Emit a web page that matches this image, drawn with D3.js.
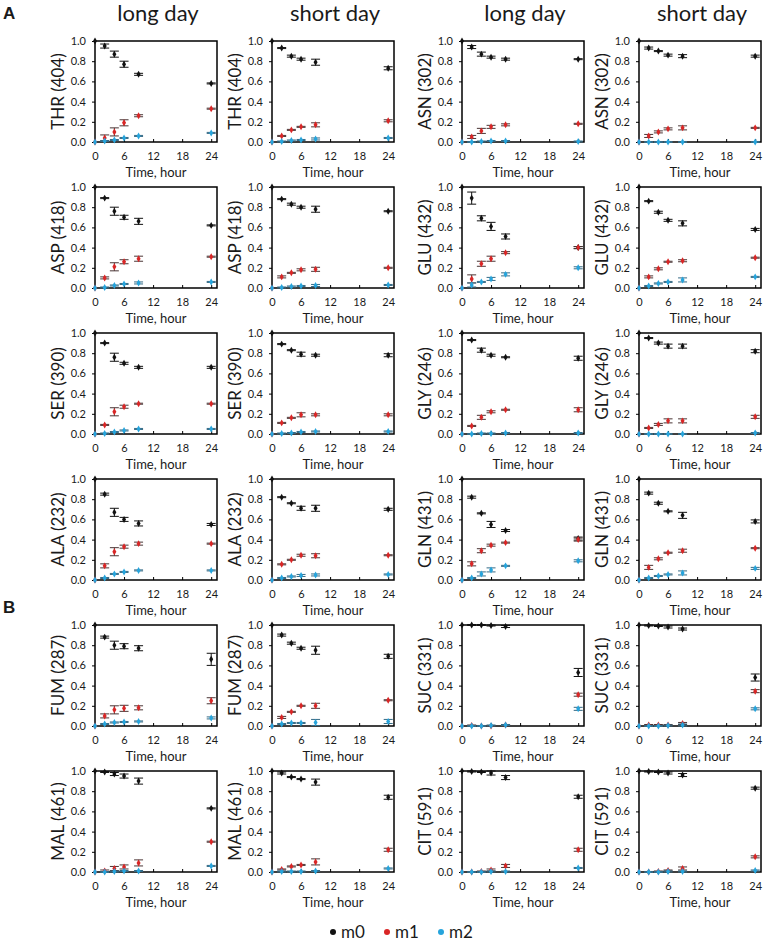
<!DOCTYPE html>
<html>
<head>
<meta charset="utf-8">
<script src="https://cdn.jsdelivr.net/npm/d3@7"></script>
<style>
  html, body { margin: 0; padding: 0; background: #fff; }
  svg { display: block; }
  text { font-family: Lato, "Open Sans", sans-serif; fill: #1a1a1a; }
</style>
</head>
<body>
<svg id="chart" width="777" height="944"></svg>
<script>
// ---------------- DATA ----------------
const times = [0, 2, 4, 6, 9, 24];
const xTickValues = [0, 6, 12, 18, 24];
const yTickValues = [0, 0.2, 0.4, 0.6, 0.8, 1.0];
const columnTitles = ["long day", "short day", "long day", "short day"];
const sectionLabels = ["A", "B"];
const seriesNames = ["m0", "m1", "m2"];
// panels, row-major (4 per row)
const panelLabels = [
  "THR (404)", "THR (404)", "ASN (302)", "ASN (302)",
  "ASP (418)", "ASP (418)", "GLU (432)", "GLU (432)",
  "SER (390)", "SER (390)", "GLY (246)", "GLY (246)",
  "ALA (232)", "ALA (232)", "GLN (431)", "GLN (431)",
  "FUM (287)", "FUM (287)", "SUC (331)", "SUC (331)",
  "MAL (461)", "MAL (461)", "CIT (591)", "CIT (591)"
];
const m0Values = [
  [1, 0.95, 0.87, 0.77, 0.67, 0.58],
  [1, 0.93, 0.85, 0.82, 0.79, 0.73],
  [1, 0.94, 0.87, 0.84, 0.82, 0.82],
  [1, 0.93, 0.90, 0.86, 0.85, 0.85],
  [1, 0.89, 0.76, 0.70, 0.66, 0.62],
  [1, 0.88, 0.83, 0.80, 0.78, 0.76],
  [1, 0.89, 0.69, 0.61, 0.51, 0.40],
  [1, 0.86, 0.75, 0.67, 0.64, 0.58],
  [1, 0.90, 0.76, 0.70, 0.66, 0.66],
  [1, 0.89, 0.83, 0.79, 0.78, 0.78],
  [1, 0.93, 0.83, 0.78, 0.76, 0.75],
  [1, 0.95, 0.90, 0.87, 0.87, 0.82],
  [1, 0.85, 0.67, 0.60, 0.56, 0.55],
  [1, 0.82, 0.76, 0.71, 0.71, 0.70],
  [1, 0.82, 0.66, 0.55, 0.49, 0.41],
  [1, 0.86, 0.76, 0.68, 0.64, 0.58],
  [1, 0.88, 0.80, 0.79, 0.77, 0.66],
  [1, 0.90, 0.82, 0.77, 0.75, 0.69],
  [1, 1.0, 1.0, 0.995, 0.985, 0.53],
  [1, 0.995, 0.99, 0.98, 0.96, 0.48],
  [1, 0.99, 0.97, 0.95, 0.90, 0.63],
  [1, 0.98, 0.94, 0.92, 0.89, 0.74],
  [1, 0.995, 0.99, 0.98, 0.935, 0.745],
  [1, 0.995, 0.99, 0.98, 0.96, 0.83]
];
const m0Err = [
  [0, 0.02, 0.03, 0.03, 0.01, 0.005],
  [0, 0.005, 0.01, 0.01, 0.03, 0.015],
  [0, 0.015, 0.02, 0.01, 0.01, 0.005],
  [0, 0.01, 0.005, 0.01, 0.015, 0.01],
  [0, 0.005, 0.04, 0.02, 0.03, 0.005],
  [0, 0.005, 0.01, 0.01, 0.03, 0.005],
  [0, 0.06, 0.025, 0.04, 0.025, 0.01],
  [0, 0.005, 0.01, 0.01, 0.025, 0.01],
  [0, 0.005, 0.04, 0.01, 0.01, 0.01],
  [0, 0.005, 0.005, 0.02, 0.01, 0.015],
  [0, 0.005, 0.02, 0.01, 0.005, 0.02],
  [0, 0.005, 0.01, 0.02, 0.02, 0.015],
  [0, 0.01, 0.04, 0.02, 0.025, 0.01],
  [0, 0.005, 0.005, 0.02, 0.03, 0.01],
  [0, 0.01, 0.005, 0.03, 0.01, 0.015],
  [0, 0.01, 0.01, 0.005, 0.03, 0.015],
  [0, 0.01, 0.04, 0.025, 0.025, 0.06],
  [0, 0.01, 0.01, 0.01, 0.04, 0.02],
  [0, 0.005, 0.005, 0.005, 0.01, 0.04],
  [0, 0.005, 0.005, 0.01, 0.01, 0.035],
  [0, 0.005, 0.015, 0.02, 0.03, 0.005],
  [0, 0.01, 0.005, 0.005, 0.03, 0.02],
  [0, 0.005, 0.005, 0.02, 0.02, 0.015],
  [0, 0.005, 0.005, 0.01, 0.015, 0.01]
];
const m1Values = [
  [0, 0.04, 0.10, 0.19, 0.26, 0.33],
  [0, 0.06, 0.12, 0.15, 0.17, 0.21],
  [0, 0.05, 0.11, 0.15, 0.17, 0.18],
  [0, 0.06, 0.10, 0.13, 0.14, 0.14],
  [0, 0.10, 0.21, 0.26, 0.29, 0.31],
  [0, 0.11, 0.15, 0.18, 0.185, 0.20],
  [0, 0.09, 0.24, 0.29, 0.35, 0.40],
  [0, 0.11, 0.19, 0.26, 0.27, 0.30],
  [0, 0.09, 0.22, 0.27, 0.30, 0.30],
  [0, 0.11, 0.16, 0.19, 0.19, 0.19],
  [0, 0.08, 0.165, 0.22, 0.24, 0.24],
  [0, 0.06, 0.095, 0.13, 0.13, 0.17],
  [0, 0.14, 0.28, 0.33, 0.36, 0.36],
  [0, 0.155, 0.20, 0.245, 0.24, 0.245],
  [0, 0.16, 0.29, 0.345, 0.37, 0.40],
  [0, 0.125, 0.21, 0.27, 0.29, 0.315],
  [0, 0.10, 0.16, 0.175, 0.18, 0.25],
  [0, 0.085, 0.14, 0.20, 0.20, 0.255],
  [0, 0.005, 0.0, 0.0, 0.01, 0.31],
  [0, 0.01, 0.01, 0.01, 0.025, 0.345],
  [0, 0.01, 0.035, 0.05, 0.09, 0.30],
  [0, 0.025, 0.055, 0.07, 0.10, 0.22],
  [0, 0.0, 0.005, 0.02, 0.06, 0.22],
  [0, 0.0, 0.005, 0.015, 0.035, 0.15]
];
const m1Err = [
  [0, 0.03, 0.04, 0.03, 0.01, 0.005],
  [0, 0.005, 0.005, 0.005, 0.02, 0.01],
  [0, 0.015, 0.025, 0.015, 0.01, 0.005],
  [0, 0.015, 0.01, 0.01, 0.02, 0.005],
  [0, 0.01, 0.04, 0.02, 0.025, 0.005],
  [0, 0.01, 0.005, 0.01, 0.02, 0.005],
  [0, 0.04, 0.025, 0.025, 0.01, 0.01],
  [0, 0.01, 0.01, 0.005, 0.01, 0.005],
  [0, 0.005, 0.04, 0.015, 0.005, 0.005],
  [0, 0.005, 0.005, 0.02, 0.01, 0.01],
  [0, 0.005, 0.02, 0.01, 0.005, 0.02],
  [0, 0.005, 0.01, 0.02, 0.02, 0.015],
  [0, 0.02, 0.04, 0.015, 0.015, 0.005],
  [0, 0.005, 0.005, 0.01, 0.02, 0.005],
  [0, 0.02, 0.02, 0.01, 0.005, 0.015],
  [0, 0.02, 0.01, 0.005, 0.015, 0.005],
  [0, 0.02, 0.04, 0.03, 0.02, 0.03],
  [0, 0.01, 0.005, 0.005, 0.025, 0.005],
  [0, 0.005, 0.005, 0.005, 0.005, 0.015],
  [0, 0.005, 0.005, 0.005, 0.01, 0.015],
  [0, 0.01, 0.02, 0.02, 0.03, 0.005],
  [0, 0.005, 0.005, 0.005, 0.03, 0.015],
  [0, 0.005, 0.005, 0.01, 0.015, 0.015],
  [0, 0.005, 0.005, 0.005, 0.015, 0.01]
];
const m2Values = [
  [0, 0.01, 0.02, 0.04, 0.06, 0.09],
  [0, 0.005, 0.015, 0.02, 0.03, 0.04],
  [0, 0, 0.005, 0.01, 0.01, 0.005],
  [0, 0, 0, 0, 0, 0],
  [0, 0.005, 0.025, 0.04, 0.05, 0.06],
  [0, 0.005, 0.015, 0.02, 0.025, 0.03],
  [0, 0.03, 0.06, 0.09, 0.135, 0.20],
  [0, 0.02, 0.045, 0.06, 0.08, 0.11],
  [0, 0.005, 0.02, 0.035, 0.05, 0.05],
  [0, 0.005, 0.01, 0.02, 0.025, 0.025],
  [0, 0, 0.005, 0.005, 0.01, 0.01],
  [0, 0, 0, 0, 0, 0.01],
  [0, 0.02, 0.06, 0.08, 0.095, 0.095],
  [0, 0.02, 0.035, 0.045, 0.05, 0.055],
  [0, 0.02, 0.06, 0.10, 0.14, 0.19],
  [0, 0.02, 0.04, 0.055, 0.07, 0.115],
  [0, 0.02, 0.035, 0.04, 0.045, 0.08],
  [0, 0.02, 0.03, 0.03, 0.035, 0.045],
  [0, 0, 0, 0.005, 0.01, 0.17],
  [0, 0, 0, 0.005, 0.01, 0.17],
  [0, 0, 0.005, 0.01, 0.01, 0.06],
  [0, 0.005, 0.005, 0.005, 0.01, 0.035],
  [0, 0, 0, 0.005, 0.005, 0.04],
  [0, 0, 0, 0.005, 0.005, 0.015]
];
const m2Err = [
  [0, 0.005, 0.005, 0.005, 0.005, 0.005],
  [0, 0.005, 0.005, 0.005, 0.01, 0.005],
  [0, 0.005, 0.005, 0.005, 0.005, 0.005],
  [0, 0.005, 0.005, 0.005, 0.005, 0.005],
  [0, 0.005, 0.005, 0.005, 0.01, 0.005],
  [0, 0.005, 0.005, 0.005, 0.01, 0.005],
  [0, 0.02, 0.005, 0.015, 0.015, 0.01],
  [0, 0.005, 0.005, 0.005, 0.02, 0.005],
  [0, 0.005, 0.005, 0.005, 0.005, 0.005],
  [0, 0.005, 0.005, 0.005, 0.005, 0.005],
  [0, 0.005, 0.005, 0.005, 0.005, 0.005],
  [0, 0.005, 0.005, 0.005, 0.005, 0.005],
  [0, 0.005, 0.005, 0.005, 0.005, 0.005],
  [0, 0.005, 0.005, 0.01, 0.01, 0.005],
  [0, 0.005, 0.02, 0.02, 0.005, 0.01],
  [0, 0.005, 0.005, 0.005, 0.02, 0.01],
  [0, 0.005, 0.005, 0.005, 0.005, 0.01],
  [0, 0.005, 0.005, 0.005, 0.03, 0.02],
  [0, 0.005, 0.005, 0.005, 0.005, 0.015],
  [0, 0.005, 0.005, 0.005, 0.01, 0.01],
  [0, 0.005, 0.005, 0.005, 0.005, 0.005],
  [0, 0.005, 0.005, 0.005, 0.005, 0.005],
  [0, 0.005, 0.005, 0.005, 0.005, 0.005],
  [0, 0.005, 0.005, 0.005, 0.005, 0.005]
];

// ---------------- LAYOUT ----------------
const colors = { m0: "#111111", m1: "#d92626", m2: "#26a4dc" };
const errColors = { m0: "#111111", m1: "#4a3535", m2: "#356a85" };
const colLeft = [95, 272, 462, 639];
const rowTop = [41, 187, 333, 479, 625, 771];
const plotW = 122, plotH = 101;

const svg = d3.select("#chart");
svg.append("rect").attr("width", 777).attr("height", 944).attr("fill", "#fff");

const x = d3.scaleLinear().domain([0, 25.2]).range([0, plotW]);
const y = d3.scaleLinear().domain([0, 1]).range([plotH, 0]);

// column titles
columnTitles.forEach((t, i) => {
  svg.append("text")
    .attr("x", colLeft[i] + plotW / 2 + 2)
    .attr("y", 21)
    .attr("text-anchor", "middle")
    .style("font-size", "22px")
    .text(t);
});

// section labels
svg.append("text").attr("x", 3).attr("y", 19)
  .style("font-family", "'Liberation Sans', Arial, sans-serif")
  .style("font-weight", "bold").style("font-size", "17px").text(sectionLabels[0]);
svg.append("text").attr("x", 3).attr("y", 613)
  .style("font-family", "'Liberation Sans', Arial, sans-serif")
  .style("font-weight", "bold").style("font-size", "17px").text(sectionLabels[1]);

const diamond = d3.symbol().type(d3.symbolDiamond).size(14);

panelLabels.forEach((label, p) => {
  const r = Math.floor(p / 4), c = p % 4;
  const g = svg.append("g").attr("transform", `translate(${colLeft[c]},${rowTop[r]})`);

  // axes
  const yAxis = d3.axisLeft(y).tickValues(yTickValues).tickFormat(d3.format(".1f"))
    .tickSize(3).tickPadding(6);
  const ya = g.append("g").call(yAxis);
  ya.select(".domain").remove();
  ya.selectAll("line").attr("stroke", "#000");
  ya.selectAll("text").style("font-size", "11px").style("font-family", "Lato, sans-serif").attr("fill", "#222");

  const xAxis = d3.axisBottom(x).tickValues(xTickValues).tickSize(-3).tickPadding(10);
  const xa = g.append("g").attr("transform", `translate(0,${plotH})`).call(xAxis);
  xa.select(".domain").remove();
  xa.selectAll("line").attr("stroke", "#000");
  xa.selectAll("text").style("font-size", "11px").style("font-family", "Lato, sans-serif").attr("fill", "#222");

  // frame
  g.append("rect").attr("width", plotW).attr("height", plotH)
    .attr("fill", "none").attr("stroke", "#000").attr("stroke-width", 1.5);

  // x label
  g.append("text").attr("x", plotW / 2).attr("y", plotH + 35)
    .attr("text-anchor", "middle").style("font-size", "13px").text("Time, hour");

  // y label
  g.append("text")
    .attr("transform", `translate(${-31},${plotH / 2}) rotate(-90)`)
    .attr("text-anchor", "middle")
    .style("font-size", "17px")
    .text(label);

  // series
  const seriesVals = [m0Values[p], m1Values[p], m2Values[p]];
  const seriesErr = [m0Err[p], m1Err[p], m2Err[p]];
  seriesNames.forEach((s, si) => {
    const pts = times.map((t, i) => ({ t, v: seriesVals[si][i], e: seriesErr[si][i] }));
    const eb = g.append("g").attr("stroke", errColors[s]).attr("stroke-width", 1).attr("fill", "none");
    pts.filter(d => d.e > 0).forEach(d => {
      const cx = x(d.t), y1 = y(d.v + d.e), y2 = y(d.v - d.e);
      eb.append("line").attr("x1", cx).attr("x2", cx).attr("y1", y1).attr("y2", y2);
      eb.append("line").attr("x1", cx - 4.5).attr("x2", cx + 4.5).attr("y1", y1).attr("y2", y1);
      eb.append("line").attr("x1", cx - 4.5).attr("x2", cx + 4.5).attr("y1", y2).attr("y2", y2);
    });
    g.append("g").selectAll("path").data(pts).join("path")
      .attr("d", diamond)
      .attr("transform", d => `translate(${x(d.t)},${y(d.v)})`)
      .attr("fill", colors[s]);
  });
});

// legend
const legendX = [333, 387, 441];
seriesNames.forEach((s, i) => {
  svg.append("circle").attr("cx", legendX[i]).attr("cy", 932).attr("r", 3).attr("fill", colors[s]);
  svg.append("text").attr("x", legendX[i] + 8).attr("y", 938).style("font-size", "17px").text(s);
});
</script>
</body>
</html>
